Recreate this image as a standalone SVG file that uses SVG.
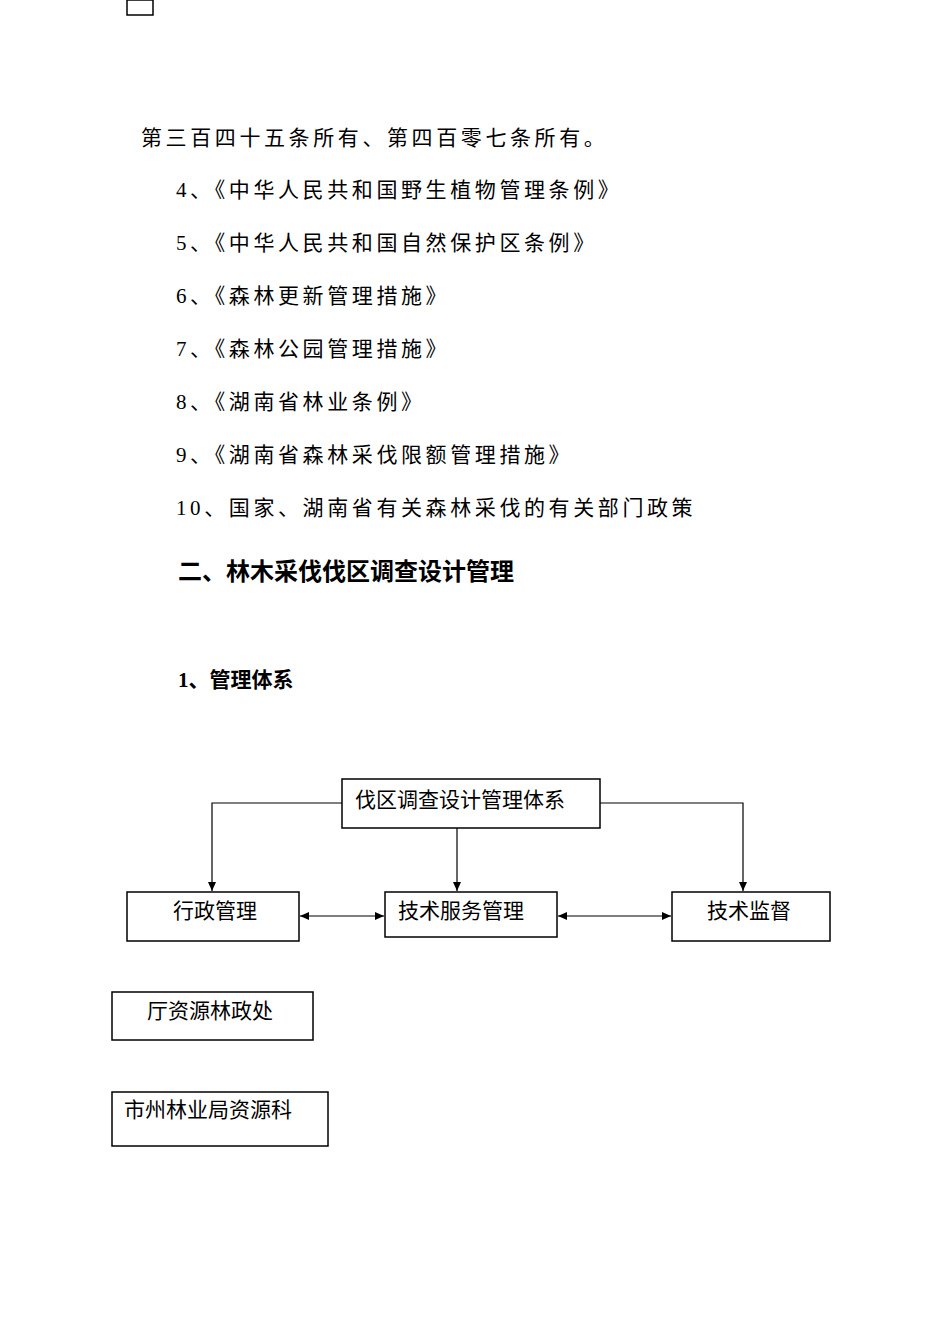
<svg xmlns="http://www.w3.org/2000/svg" width="950" height="1344" viewBox="0 0 950 1344">
<style>
.b{font-family:"Liberation Serif","Noto Sans CJK SC",serif;font-size:21px;letter-spacing:3.6px;fill:#000}
.h{font-family:"Liberation Serif","Noto Sans CJK SC",serif;font-weight:bold;fill:#000}
.n{font-family:"Liberation Sans","Noto Sans CJK SC",sans-serif;font-size:21px;fill:#000}
rect{fill:#fff;stroke:#000;stroke-width:1.5}
.c{fill:none;stroke:#000;stroke-width:1.2}
</style>
<defs><marker id="a" markerWidth="10" markerHeight="10" refX="9" refY="5" orient="auto-start-reverse" markerUnits="userSpaceOnUse"><path d="M0,1 L9,5 L0,9 z" fill="#000"/></marker></defs>
<rect x="127" y="0" width="26" height="15"/>
<text class="b" x="141" y="145">第三百四十五条所有、第四百零七条所有。</text>
<text class="b" x="176" y="197">4、《中华人民共和国野生植物管理条例》</text>
<text class="b" x="176" y="250">5、《中华人民共和国自然保护区条例》</text>
<text class="b" x="176" y="303">6、《森林更新管理措施》</text>
<text class="b" x="176" y="356">7、《森林公园管理措施》</text>
<text class="b" x="176" y="409">8、《湖南省林业条例》</text>
<text class="b" x="176" y="462">9、《湖南省森林采伐限额管理措施》</text>
<text class="b" x="176" y="515">10、国家、湖南省有关森林采伐的有关部门政策</text>
<text class="h" x="178" y="580" font-size="24">二、林木采伐伐区调查设计管理</text>
<text class="h" x="178" y="687" font-size="21">1、管理体系</text>
<g id="connectors">
<path class="c" d="M342,803 H212 V891" marker-end="url(#a)"/>
<path class="c" d="M600,803 H743 V891" marker-end="url(#a)"/>
<path class="c" d="M457,828 V891" marker-end="url(#a)"/>
<path class="c" d="M300,916 H384" marker-start="url(#a)" marker-end="url(#a)"/>
<path class="c" d="M558,916 H671" marker-start="url(#a)" marker-end="url(#a)"/>
</g>
<g id="root"><rect x="342" y="779" width="258" height="49"/><text class="n" x="355" y="807">伐区调查设计管理体系</text></g>
<g id="admin"><rect x="127" y="892" width="172" height="49"/><text class="n" x="173" y="918">行政管理</text></g>
<g id="tech"><rect x="385" y="892" width="172" height="45"/><text class="n" x="398" y="918">技术服务管理</text></g>
<g id="super"><rect x="672" y="892" width="158" height="49"/><text class="n" x="707" y="918">技术监督</text></g>
<g id="office"><rect x="112" y="992" width="201" height="48"/><text class="n" x="147" y="1018">厅资源林政处</text></g>
<g id="city"><rect x="112" y="1092" width="216" height="54"/><text class="n" x="124" y="1117">市州林业局资源科</text></g>
</svg>
